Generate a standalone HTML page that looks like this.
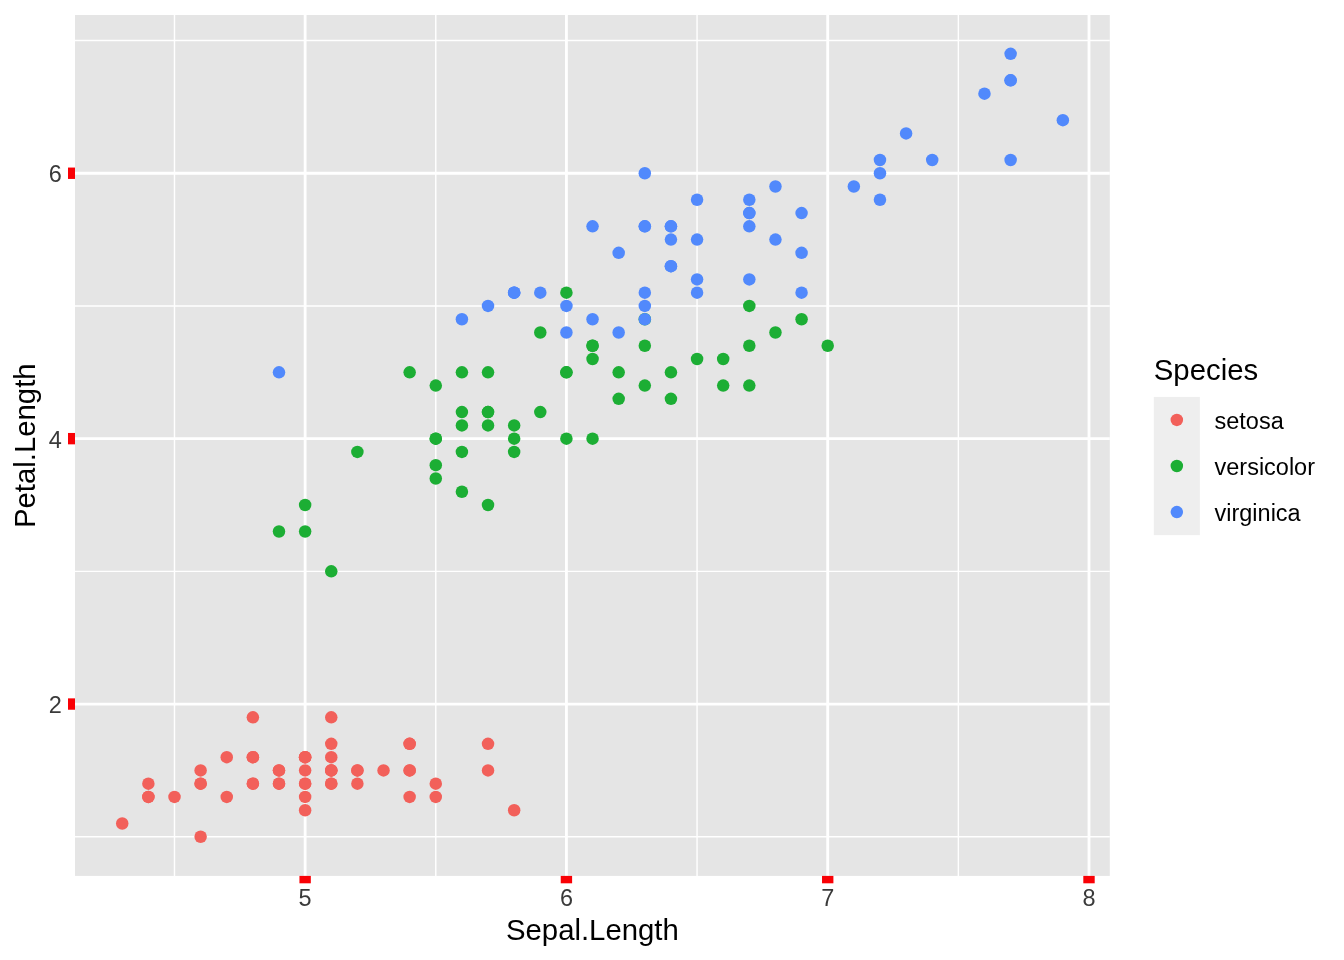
<!DOCTYPE html><html><head><meta charset="utf-8"><style>html,body{margin:0;padding:0;background:#fff;width:1344px;height:960px;overflow:hidden}svg{display:block;will-change:transform}text{font-family:"Liberation Sans",sans-serif}</style></head><body>
<svg width="1344" height="960" viewBox="0 0 1344 960">
<rect x="0" y="0" width="1344" height="960" fill="#FFFFFF"/>
<rect x="75.00" y="15.00" width="1034.80" height="860.90" fill="#E5E5E5"/>
<path d="M75.00 836.75H1109.80M75.00 571.35H1109.80M75.00 305.95H1109.80M75.00 40.55H1109.80M174.49 15.00V875.90M435.78 15.00V875.90M697.07 15.00V875.90M958.35 15.00V875.90" stroke="#FFFFFF" stroke-width="1.42" fill="none"/>
<path d="M75.00 704.05H1109.80M75.00 438.65H1109.80M75.00 173.25H1109.80M305.13 15.00V875.90M566.42 15.00V875.90M827.71 15.00V875.90M1089.00 15.00V875.90" stroke="#FFFFFF" stroke-width="2.84" fill="none"/>
<circle cx="331.26" cy="783.67" r="6.25" fill="#F2605A"/>
<circle cx="279.00" cy="783.67" r="6.25" fill="#F2605A"/>
<circle cx="226.75" cy="796.94" r="6.25" fill="#F2605A"/>
<circle cx="200.62" cy="770.40" r="6.25" fill="#F2605A"/>
<circle cx="305.13" cy="783.67" r="6.25" fill="#F2605A"/>
<circle cx="409.65" cy="743.86" r="6.25" fill="#F2605A"/>
<circle cx="200.62" cy="783.67" r="6.25" fill="#F2605A"/>
<circle cx="305.13" cy="770.40" r="6.25" fill="#F2605A"/>
<circle cx="148.36" cy="783.67" r="6.25" fill="#F2605A"/>
<circle cx="279.00" cy="770.40" r="6.25" fill="#F2605A"/>
<circle cx="409.65" cy="770.40" r="6.25" fill="#F2605A"/>
<circle cx="252.88" cy="757.13" r="6.25" fill="#F2605A"/>
<circle cx="252.88" cy="783.67" r="6.25" fill="#F2605A"/>
<circle cx="122.23" cy="823.48" r="6.25" fill="#F2605A"/>
<circle cx="514.16" cy="810.21" r="6.25" fill="#F2605A"/>
<circle cx="488.03" cy="770.40" r="6.25" fill="#F2605A"/>
<circle cx="409.65" cy="796.94" r="6.25" fill="#F2605A"/>
<circle cx="331.26" cy="783.67" r="6.25" fill="#F2605A"/>
<circle cx="488.03" cy="743.86" r="6.25" fill="#F2605A"/>
<circle cx="331.26" cy="770.40" r="6.25" fill="#F2605A"/>
<circle cx="409.65" cy="743.86" r="6.25" fill="#F2605A"/>
<circle cx="331.26" cy="770.40" r="6.25" fill="#F2605A"/>
<circle cx="200.62" cy="836.75" r="6.25" fill="#F2605A"/>
<circle cx="331.26" cy="743.86" r="6.25" fill="#F2605A"/>
<circle cx="252.88" cy="717.32" r="6.25" fill="#F2605A"/>
<circle cx="305.13" cy="757.13" r="6.25" fill="#F2605A"/>
<circle cx="305.13" cy="757.13" r="6.25" fill="#F2605A"/>
<circle cx="357.39" cy="770.40" r="6.25" fill="#F2605A"/>
<circle cx="357.39" cy="783.67" r="6.25" fill="#F2605A"/>
<circle cx="226.75" cy="757.13" r="6.25" fill="#F2605A"/>
<circle cx="252.88" cy="757.13" r="6.25" fill="#F2605A"/>
<circle cx="409.65" cy="770.40" r="6.25" fill="#F2605A"/>
<circle cx="357.39" cy="770.40" r="6.25" fill="#F2605A"/>
<circle cx="435.78" cy="783.67" r="6.25" fill="#F2605A"/>
<circle cx="279.00" cy="770.40" r="6.25" fill="#F2605A"/>
<circle cx="305.13" cy="810.21" r="6.25" fill="#F2605A"/>
<circle cx="435.78" cy="796.94" r="6.25" fill="#F2605A"/>
<circle cx="279.00" cy="783.67" r="6.25" fill="#F2605A"/>
<circle cx="148.36" cy="796.94" r="6.25" fill="#F2605A"/>
<circle cx="331.26" cy="770.40" r="6.25" fill="#F2605A"/>
<circle cx="305.13" cy="796.94" r="6.25" fill="#F2605A"/>
<circle cx="174.49" cy="796.94" r="6.25" fill="#F2605A"/>
<circle cx="148.36" cy="796.94" r="6.25" fill="#F2605A"/>
<circle cx="305.13" cy="757.13" r="6.25" fill="#F2605A"/>
<circle cx="331.26" cy="717.32" r="6.25" fill="#F2605A"/>
<circle cx="252.88" cy="783.67" r="6.25" fill="#F2605A"/>
<circle cx="331.26" cy="757.13" r="6.25" fill="#F2605A"/>
<circle cx="200.62" cy="783.67" r="6.25" fill="#F2605A"/>
<circle cx="383.52" cy="770.40" r="6.25" fill="#F2605A"/>
<circle cx="305.13" cy="783.67" r="6.25" fill="#F2605A"/>
<circle cx="827.71" cy="345.76" r="6.25" fill="#1CAE34"/>
<circle cx="670.94" cy="372.30" r="6.25" fill="#1CAE34"/>
<circle cx="801.58" cy="319.22" r="6.25" fill="#1CAE34"/>
<circle cx="435.78" cy="438.65" r="6.25" fill="#1CAE34"/>
<circle cx="697.07" cy="359.03" r="6.25" fill="#1CAE34"/>
<circle cx="488.03" cy="372.30" r="6.25" fill="#1CAE34"/>
<circle cx="644.81" cy="345.76" r="6.25" fill="#1CAE34"/>
<circle cx="279.00" cy="531.54" r="6.25" fill="#1CAE34"/>
<circle cx="723.19" cy="359.03" r="6.25" fill="#1CAE34"/>
<circle cx="357.39" cy="451.92" r="6.25" fill="#1CAE34"/>
<circle cx="305.13" cy="505.00" r="6.25" fill="#1CAE34"/>
<circle cx="540.29" cy="412.11" r="6.25" fill="#1CAE34"/>
<circle cx="566.42" cy="438.65" r="6.25" fill="#1CAE34"/>
<circle cx="592.55" cy="345.76" r="6.25" fill="#1CAE34"/>
<circle cx="461.91" cy="491.73" r="6.25" fill="#1CAE34"/>
<circle cx="749.32" cy="385.57" r="6.25" fill="#1CAE34"/>
<circle cx="461.91" cy="372.30" r="6.25" fill="#1CAE34"/>
<circle cx="514.16" cy="425.38" r="6.25" fill="#1CAE34"/>
<circle cx="618.68" cy="372.30" r="6.25" fill="#1CAE34"/>
<circle cx="461.91" cy="451.92" r="6.25" fill="#1CAE34"/>
<circle cx="540.29" cy="332.49" r="6.25" fill="#1CAE34"/>
<circle cx="592.55" cy="438.65" r="6.25" fill="#1CAE34"/>
<circle cx="644.81" cy="319.22" r="6.25" fill="#1CAE34"/>
<circle cx="592.55" cy="345.76" r="6.25" fill="#1CAE34"/>
<circle cx="670.94" cy="398.84" r="6.25" fill="#1CAE34"/>
<circle cx="723.19" cy="385.57" r="6.25" fill="#1CAE34"/>
<circle cx="775.45" cy="332.49" r="6.25" fill="#1CAE34"/>
<circle cx="749.32" cy="305.95" r="6.25" fill="#1CAE34"/>
<circle cx="566.42" cy="372.30" r="6.25" fill="#1CAE34"/>
<circle cx="488.03" cy="505.00" r="6.25" fill="#1CAE34"/>
<circle cx="435.78" cy="465.19" r="6.25" fill="#1CAE34"/>
<circle cx="435.78" cy="478.46" r="6.25" fill="#1CAE34"/>
<circle cx="514.16" cy="451.92" r="6.25" fill="#1CAE34"/>
<circle cx="566.42" cy="292.68" r="6.25" fill="#1CAE34"/>
<circle cx="409.65" cy="372.30" r="6.25" fill="#1CAE34"/>
<circle cx="566.42" cy="372.30" r="6.25" fill="#1CAE34"/>
<circle cx="749.32" cy="345.76" r="6.25" fill="#1CAE34"/>
<circle cx="644.81" cy="385.57" r="6.25" fill="#1CAE34"/>
<circle cx="461.91" cy="425.38" r="6.25" fill="#1CAE34"/>
<circle cx="435.78" cy="438.65" r="6.25" fill="#1CAE34"/>
<circle cx="435.78" cy="385.57" r="6.25" fill="#1CAE34"/>
<circle cx="592.55" cy="359.03" r="6.25" fill="#1CAE34"/>
<circle cx="514.16" cy="438.65" r="6.25" fill="#1CAE34"/>
<circle cx="305.13" cy="531.54" r="6.25" fill="#1CAE34"/>
<circle cx="461.91" cy="412.11" r="6.25" fill="#1CAE34"/>
<circle cx="488.03" cy="412.11" r="6.25" fill="#1CAE34"/>
<circle cx="488.03" cy="412.11" r="6.25" fill="#1CAE34"/>
<circle cx="618.68" cy="398.84" r="6.25" fill="#1CAE34"/>
<circle cx="331.26" cy="571.35" r="6.25" fill="#1CAE34"/>
<circle cx="488.03" cy="425.38" r="6.25" fill="#1CAE34"/>
<circle cx="644.81" cy="173.25" r="6.25" fill="#5189FC"/>
<circle cx="514.16" cy="292.68" r="6.25" fill="#5189FC"/>
<circle cx="853.84" cy="186.52" r="6.25" fill="#5189FC"/>
<circle cx="644.81" cy="226.33" r="6.25" fill="#5189FC"/>
<circle cx="697.07" cy="199.79" r="6.25" fill="#5189FC"/>
<circle cx="984.48" cy="93.63" r="6.25" fill="#5189FC"/>
<circle cx="279.00" cy="372.30" r="6.25" fill="#5189FC"/>
<circle cx="906.10" cy="133.44" r="6.25" fill="#5189FC"/>
<circle cx="749.32" cy="199.79" r="6.25" fill="#5189FC"/>
<circle cx="879.97" cy="159.98" r="6.25" fill="#5189FC"/>
<circle cx="697.07" cy="292.68" r="6.25" fill="#5189FC"/>
<circle cx="670.94" cy="266.14" r="6.25" fill="#5189FC"/>
<circle cx="775.45" cy="239.60" r="6.25" fill="#5189FC"/>
<circle cx="488.03" cy="305.95" r="6.25" fill="#5189FC"/>
<circle cx="514.16" cy="292.68" r="6.25" fill="#5189FC"/>
<circle cx="670.94" cy="266.14" r="6.25" fill="#5189FC"/>
<circle cx="697.07" cy="239.60" r="6.25" fill="#5189FC"/>
<circle cx="1010.61" cy="80.36" r="6.25" fill="#5189FC"/>
<circle cx="1010.61" cy="53.82" r="6.25" fill="#5189FC"/>
<circle cx="566.42" cy="305.95" r="6.25" fill="#5189FC"/>
<circle cx="801.58" cy="213.06" r="6.25" fill="#5189FC"/>
<circle cx="461.91" cy="319.22" r="6.25" fill="#5189FC"/>
<circle cx="1010.61" cy="80.36" r="6.25" fill="#5189FC"/>
<circle cx="644.81" cy="319.22" r="6.25" fill="#5189FC"/>
<circle cx="749.32" cy="213.06" r="6.25" fill="#5189FC"/>
<circle cx="879.97" cy="173.25" r="6.25" fill="#5189FC"/>
<circle cx="618.68" cy="332.49" r="6.25" fill="#5189FC"/>
<circle cx="592.55" cy="319.22" r="6.25" fill="#5189FC"/>
<circle cx="670.94" cy="226.33" r="6.25" fill="#5189FC"/>
<circle cx="879.97" cy="199.79" r="6.25" fill="#5189FC"/>
<circle cx="932.22" cy="159.98" r="6.25" fill="#5189FC"/>
<circle cx="1062.87" cy="120.17" r="6.25" fill="#5189FC"/>
<circle cx="670.94" cy="226.33" r="6.25" fill="#5189FC"/>
<circle cx="644.81" cy="292.68" r="6.25" fill="#5189FC"/>
<circle cx="592.55" cy="226.33" r="6.25" fill="#5189FC"/>
<circle cx="1010.61" cy="159.98" r="6.25" fill="#5189FC"/>
<circle cx="644.81" cy="226.33" r="6.25" fill="#5189FC"/>
<circle cx="670.94" cy="239.60" r="6.25" fill="#5189FC"/>
<circle cx="566.42" cy="332.49" r="6.25" fill="#5189FC"/>
<circle cx="801.58" cy="252.87" r="6.25" fill="#5189FC"/>
<circle cx="749.32" cy="226.33" r="6.25" fill="#5189FC"/>
<circle cx="801.58" cy="292.68" r="6.25" fill="#5189FC"/>
<circle cx="514.16" cy="292.68" r="6.25" fill="#5189FC"/>
<circle cx="775.45" cy="186.52" r="6.25" fill="#5189FC"/>
<circle cx="749.32" cy="213.06" r="6.25" fill="#5189FC"/>
<circle cx="749.32" cy="279.41" r="6.25" fill="#5189FC"/>
<circle cx="644.81" cy="305.95" r="6.25" fill="#5189FC"/>
<circle cx="697.07" cy="279.41" r="6.25" fill="#5189FC"/>
<circle cx="618.68" cy="252.87" r="6.25" fill="#5189FC"/>
<circle cx="540.29" cy="292.68" r="6.25" fill="#5189FC"/>
<rect x="68.00" y="698.36" width="7.00" height="11.38" fill="#F90005"/>
<rect x="68.00" y="432.96" width="7.00" height="11.38" fill="#F90005"/>
<rect x="68.00" y="167.56" width="7.00" height="11.38" fill="#F90005"/>
<rect x="299.44" y="875.90" width="11.38" height="7.40" fill="#F90005"/>
<rect x="560.73" y="875.90" width="11.38" height="7.40" fill="#F90005"/>
<rect x="822.02" y="875.90" width="11.38" height="7.40" fill="#F90005"/>
<rect x="1083.31" y="875.90" width="11.38" height="7.40" fill="#F90005"/>
<text x="61.80" y="713.00" font-size="23.47" fill="#3A3A3A" text-anchor="end">2</text>
<text x="61.80" y="448.00" font-size="23.47" fill="#3A3A3A" text-anchor="end">4</text>
<text x="61.80" y="182.00" font-size="23.47" fill="#3A3A3A" text-anchor="end">6</text>
<text x="305.13" y="906.00" font-size="23.47" fill="#3A3A3A" text-anchor="middle">5</text>
<text x="566.42" y="906.00" font-size="23.47" fill="#3A3A3A" text-anchor="middle">6</text>
<text x="827.71" y="906.00" font-size="23.47" fill="#3A3A3A" text-anchor="middle">7</text>
<text x="1089.00" y="906.00" font-size="23.47" fill="#3A3A3A" text-anchor="middle">8</text>
<text x="592.40" y="939.60" font-size="29.33" fill="#000000" text-anchor="middle">Sepal.Length</text>
<text x="35.30" y="445.75" font-size="29.33" fill="#000000" text-anchor="middle" transform="rotate(-90 35.30 445.75)">Petal.Length</text>
<text x="1153.80" y="380.20" font-size="29.33" fill="#000000">Species</text>
<rect x="1153.80" y="396.90" width="46.08" height="138.24" fill="#EEEEEE"/>
<circle cx="1176.84" cy="419.94" r="6.25" fill="#F2605A"/>
<text x="1214.55" y="429.24" font-size="23.47" fill="#000000">setosa</text>
<circle cx="1176.84" cy="466.02" r="6.25" fill="#1CAE34"/>
<text x="1214.55" y="475.32" font-size="23.47" fill="#000000">versicolor</text>
<circle cx="1176.84" cy="512.10" r="6.25" fill="#5189FC"/>
<text x="1214.55" y="521.40" font-size="23.47" fill="#000000">virginica</text>
</svg></body></html>
